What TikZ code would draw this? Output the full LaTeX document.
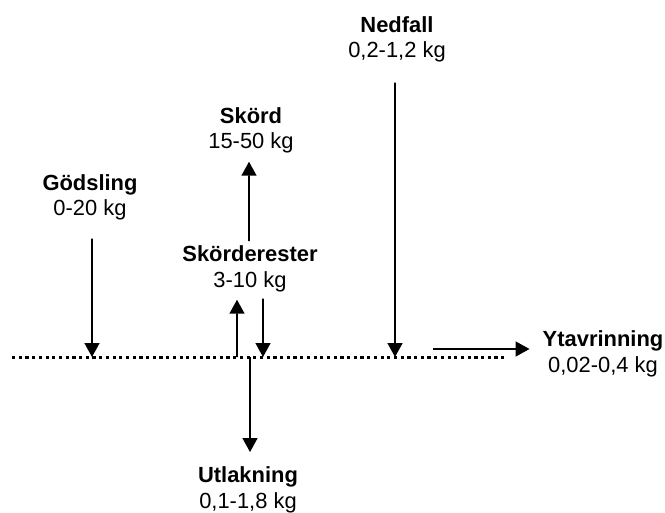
\documentclass[tikz,border=0pt]{standalone}
\usepackage{fontspec}
\setmainfont{Liberation Sans}
\usetikzlibrary{arrows.meta}
\tikzset{
  flow/.style={line width=1.6bp, -{Triangle[length=14bp,width=15bp]}},
  soil/.style={line width=3bp, dash pattern=on 3.2bp off 3.5bp},
  post/.style={align=center, inner sep=0pt, anchor=base,
    font=\fontsize{22}{26}\selectfont},
}
\begin{document}
\begin{tikzpicture}[x=1bp,y=-1bp]
  \def\ly{357}
  \useasboundingbox (0,0) rectangle (665,513);

  % markytan
  \draw[soil] (12,\ly) -- (505,\ly);

  \node[post] (nedfall) at (397,58) {\textbf{Nedfall}\\0,2-1,2 kg};
  \node[post] (skord) at (251,149) {\textbf{Skörd}\\15-50 kg};
  \node[post] (godsling) at (90,216) {\textbf{Gödsling}\\0-20 kg};
  \node[post] (rester) at (250,287) {\textbf{Skörderester}\\3-10 kg};
  \node[post] (ytav) at (603,372) {\textbf{Ytavrinning}\\0,02-0,4 kg};
  \node[post] (utlak) at (248,508) {\textbf{Utlakning}\\0,1-1,8 kg};

  \coordinate (g0) at (92,\ly);
  \coordinate (n0) at (395,\ly);
  \coordinate (r0) at (237,\ly);
  \coordinate (r1) at (263,\ly);
  \coordinate (u0) at (250,\ly);
  \coordinate (y0) at (433,349);

  \draw[flow] ([xshift=2bp,yshift=-18bp]godsling.south) -- (g0);
  \draw[flow] ([xshift=-2bp,yshift=-20bp]nedfall.south) -- (n0);
  \draw[flow] ([xshift=-1bp,yshift=4bp]rester.north) -- ([xshift=-2bp,yshift=-8bp]skord.south);
  \draw[flow] (r0) -- ([xshift=-13bp,yshift=-8bp]rester.south);
  \draw[flow] ([xshift=13bp,yshift=-7bp]rester.south) -- (r1);
  \draw[flow] (u0) -- ([xshift=2bp,yshift=14bp]utlak.north);
  \draw[flow] (y0) -- ([xshift=-13bp]y0 -| ytav.west);
\end{tikzpicture}
\end{document}
